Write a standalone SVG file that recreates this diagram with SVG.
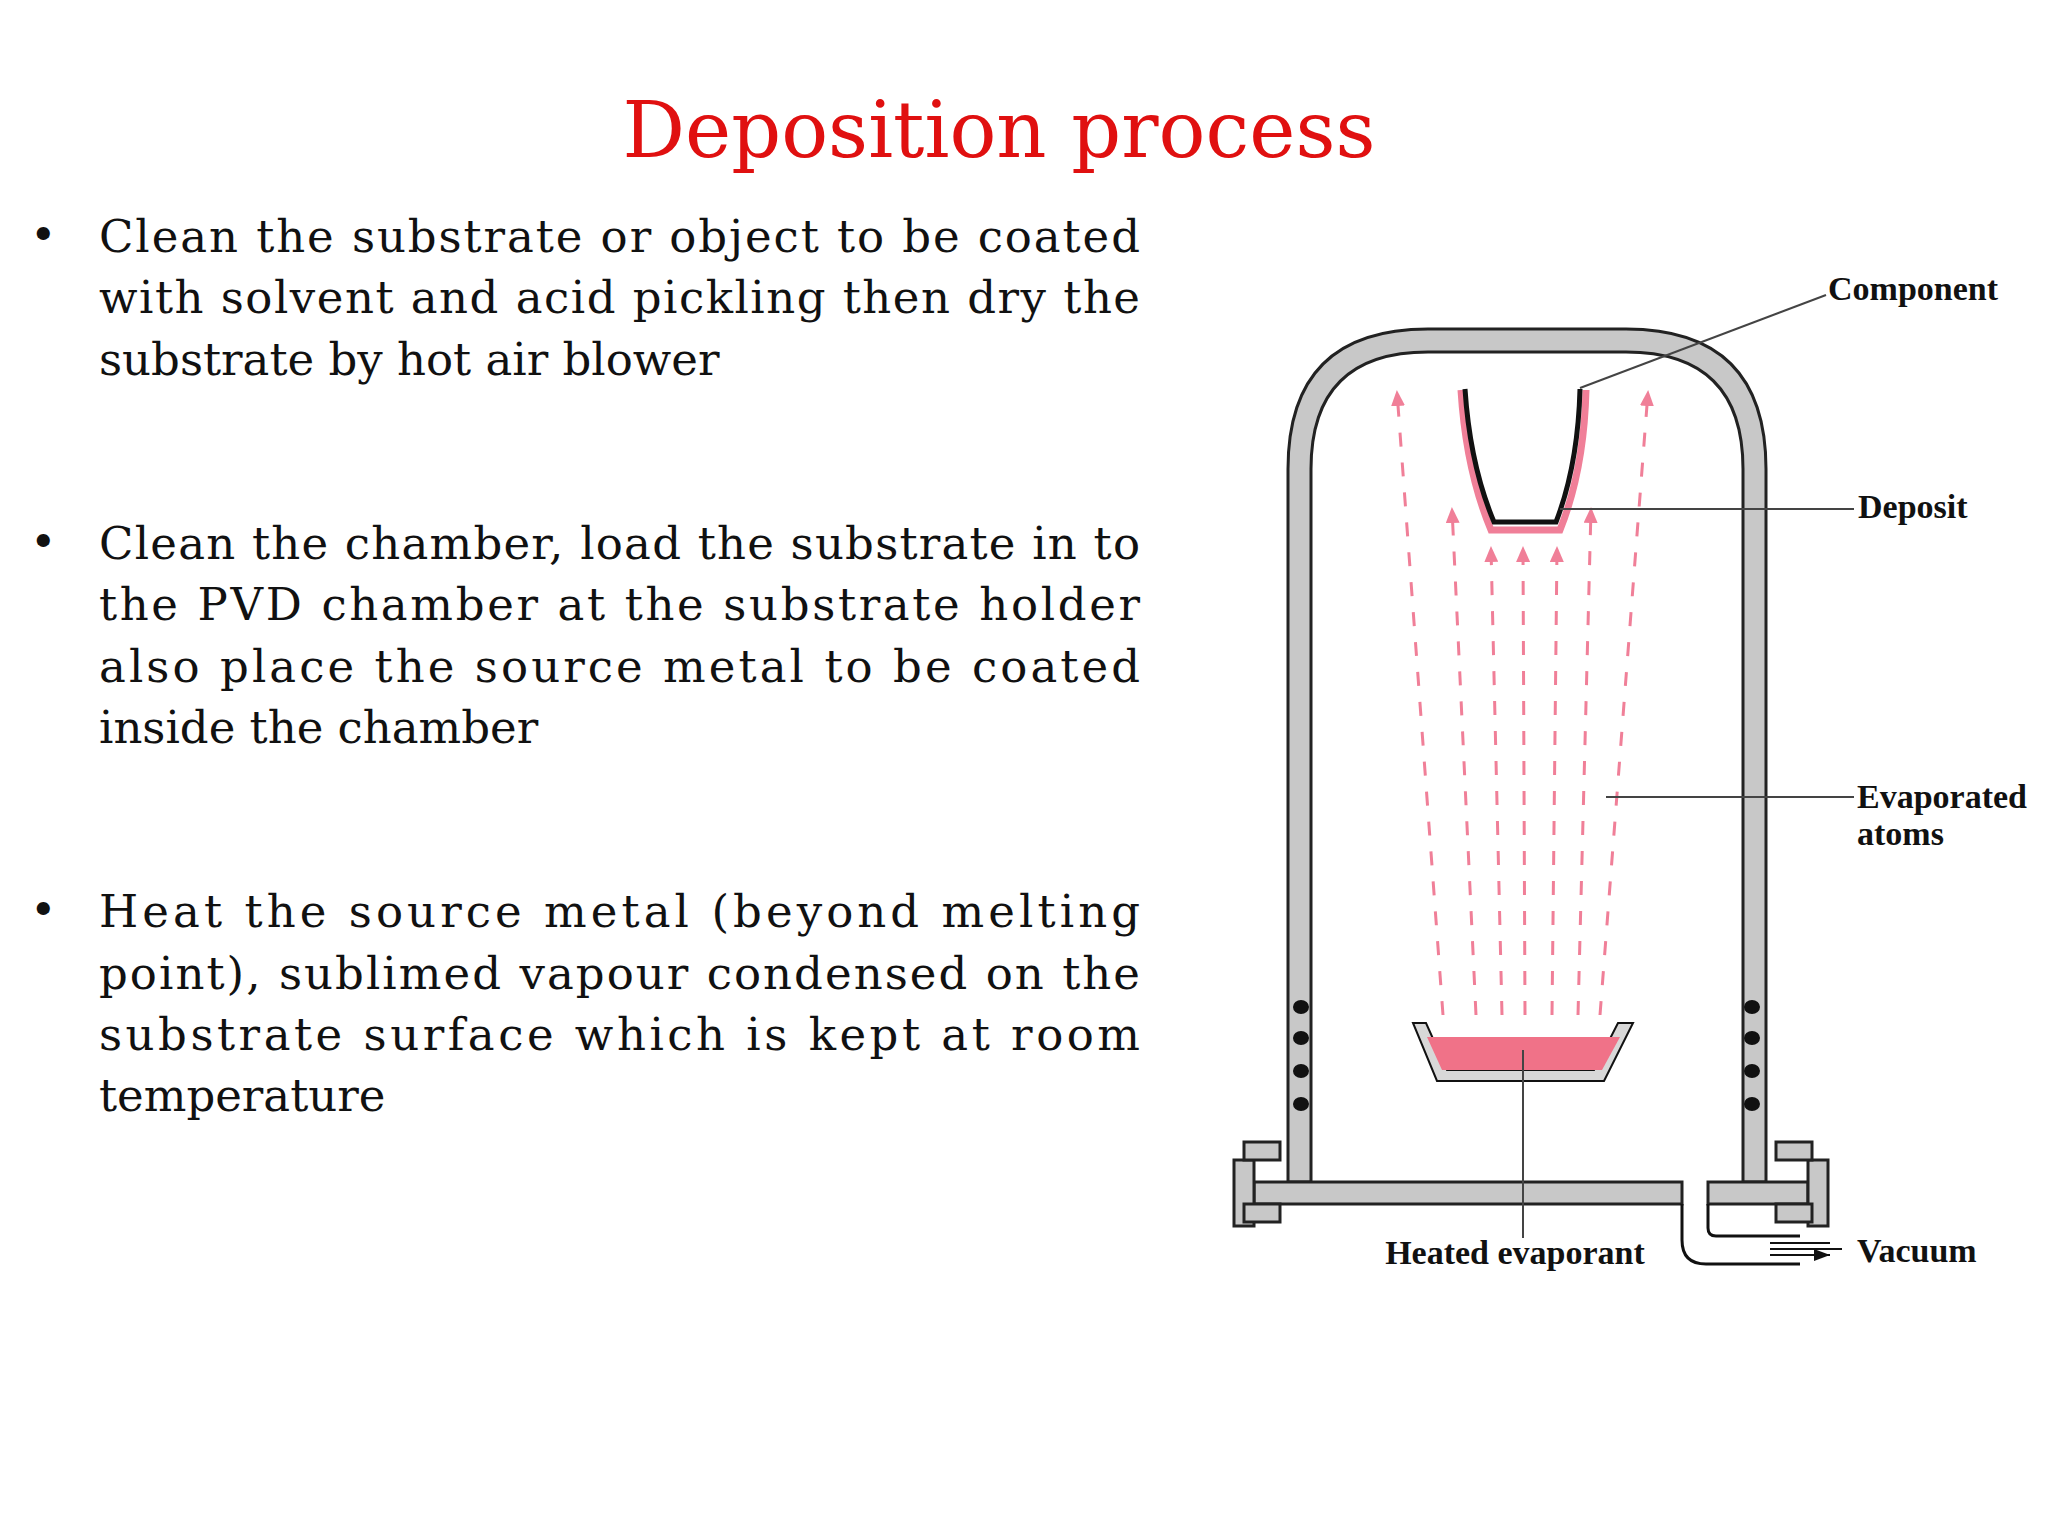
<svg xmlns="http://www.w3.org/2000/svg" width="2048" height="1536" viewBox="0 0 2048 1536">
<style>
.t{font-family:"DejaVu Serif",serif;font-size:45px;fill:#111}
.l{font-family:"Liberation Serif",serif;font-size:34px;fill:#111;font-weight:bold}
.wall{fill:#c8c8c8;stroke:#222;stroke-width:3}
.atom{stroke:#f07f98;stroke-width:3;stroke-dasharray:14 16;fill:none}
.lead{stroke:#444;stroke-width:2;fill:none}
</style>
<defs>
<marker id="pa" markerWidth="16" markerHeight="14" refX="14" refY="7" orient="auto" markerUnits="userSpaceOnUse"><path d="M0 0 L16 7 L0 14 Z" fill="#f07f98"/></marker>
<marker id="ba" markerWidth="16" markerHeight="12" refX="16" refY="6" orient="auto" markerUnits="userSpaceOnUse"><path d="M0 0 L16 6 L0 12 Z" fill="#111"/></marker>
</defs>
<rect width="2048" height="1536" fill="#fff"/>
<text x="999" y="157" text-anchor="middle" font-family="DejaVu Serif, serif" font-size="78" fill="#e01010">Deposition process</text>
<g id="text">
<text class="t" x="30" y="250">•</text>
<text class="t" x="99" y="252" textLength="1041" lengthAdjust="spacing">Clean the substrate or object to be coated</text>
<text class="t" x="99" y="313" textLength="1041" lengthAdjust="spacing">with solvent and acid pickling then dry the</text>
<text class="t" x="99" y="375">substrate by hot air blower</text>
<text class="t" x="30" y="557">•</text>
<text class="t" x="99" y="559" textLength="1041" lengthAdjust="spacing">Clean the chamber, load the substrate in to</text>
<text class="t" x="99" y="620" textLength="1041" lengthAdjust="spacing">the PVD chamber at the substrate holder</text>
<text class="t" x="99" y="682" textLength="1041" lengthAdjust="spacing">also place the source metal to be coated</text>
<text class="t" x="99" y="743">inside the chamber</text>
<text class="t" x="30" y="925">•</text>
<text class="t" x="99" y="927" textLength="1041" lengthAdjust="spacing">Heat the source metal (beyond melting</text>
<text class="t" x="99" y="989" textLength="1041" lengthAdjust="spacing">point), sublimed vapour condensed on the</text>
<text class="t" x="99" y="1050" textLength="1041" lengthAdjust="spacing">substrate surface which is kept at room</text>
<text class="t" x="99" y="1111">temperature</text>
</g>
<g id="chamber">
<path class="wall" d="M1288 1182 L1288 469 Q1288 329 1428 329 L1626 329 Q1766 329 1766 469 L1766 1182 L1743 1182 L1743 469 Q1743 352 1626 352 L1428 352 Q1311 352 1311 469 L1311 1182 Z"/>
<rect class="wall" x="1254" y="1182" width="428" height="22"/>
<rect class="wall" x="1708" y="1182" width="100" height="22"/>
<rect class="wall" x="1234" y="1160" width="20" height="66"/>
<rect class="wall" x="1244" y="1142" width="36" height="18"/>
<rect class="wall" x="1244" y="1204" width="36" height="18"/>
<rect class="wall" x="1808" y="1160" width="20" height="66"/>
<rect class="wall" x="1776" y="1142" width="36" height="18"/>
<rect class="wall" x="1776" y="1204" width="36" height="18"/>
<path d="M1682 1204 L1682 1240 Q1682 1264 1706 1264 L1800 1264 M1708 1204 L1708 1228 Q1708 1236 1716 1236 L1800 1236" stroke="#111" stroke-width="3" fill="none"/>
<g fill="#111"><ellipse cx="1301" cy="1007" rx="8" ry="7"/><ellipse cx="1301" cy="1038" rx="8" ry="7"/><ellipse cx="1301" cy="1071" rx="8" ry="7"/><ellipse cx="1301" cy="1104" rx="8" ry="7"/>
<ellipse cx="1752" cy="1007" rx="8" ry="7"/><ellipse cx="1752" cy="1038" rx="8" ry="7"/><ellipse cx="1752" cy="1071" rx="8" ry="7"/><ellipse cx="1752" cy="1104" rx="8" ry="7"/></g>
<path d="M1770 1243 L1830 1243 M1770 1249 L1842 1249 M1770 1255 L1830 1255" stroke="#111" stroke-width="2" marker-end="url(#ba)"/>
</g>
<g id="component">
<path d="M1461 390 Q1466 470 1491 530 L1560 530 Q1584 470 1586 390" stroke="#f07f98" stroke-width="7" fill="none"/>
<path d="M1465 389 Q1470 465 1494 522 L1556 522 Q1578 465 1580 389" stroke="#111" stroke-width="5" fill="none"/>
</g>
<g id="crucible">
<path d="M1413 1023 L1426 1023 L1447 1070 L1594 1070 L1618 1023 L1633 1023 L1604 1081 L1437 1081 Z" fill="#d8d8d8" stroke="#111" stroke-width="2"/>
<path d="M1427 1037 L1620 1037 L1602 1070 L1442 1070 Z" fill="#f07288"/>
</g>
<g id="connectors">
<path class="atom" d="M1443 1015 L1397 392" marker-end="url(#pa)"/>
<path class="atom" d="M1476 1015 L1452 509" marker-end="url(#pa)"/>
<path class="atom" d="M1502 1015 L1491 548" marker-end="url(#pa)"/>
<path class="atom" d="M1525 1015 L1523 548" marker-end="url(#pa)"/>
<path class="atom" d="M1552 1015 L1557 548" marker-end="url(#pa)"/>
<path class="atom" d="M1578 1015 L1591 509" marker-end="url(#pa)"/>
<path class="atom" d="M1600 1015 L1648 392" marker-end="url(#pa)"/>
<path class="lead" d="M1580 388 L1826 295"/>
<path class="lead" d="M1560 509 L1854 509"/>
<path class="lead" d="M1606 797 L1854 797"/>
<path class="lead" d="M1523 1050 L1523 1238"/>
</g>
<g id="labels">
<text class="l" x="1828" y="300">Component</text>
<text class="l" x="1858" y="518">Deposit</text>
<text class="l" x="1857" y="808">Evaporated</text>
<text class="l" x="1857" y="845">atoms</text>
<text class="l" x="1515" y="1264" text-anchor="middle">Heated evaporant</text>
<text class="l" x="1857" y="1262">Vacuum</text>
</g>
</svg>
